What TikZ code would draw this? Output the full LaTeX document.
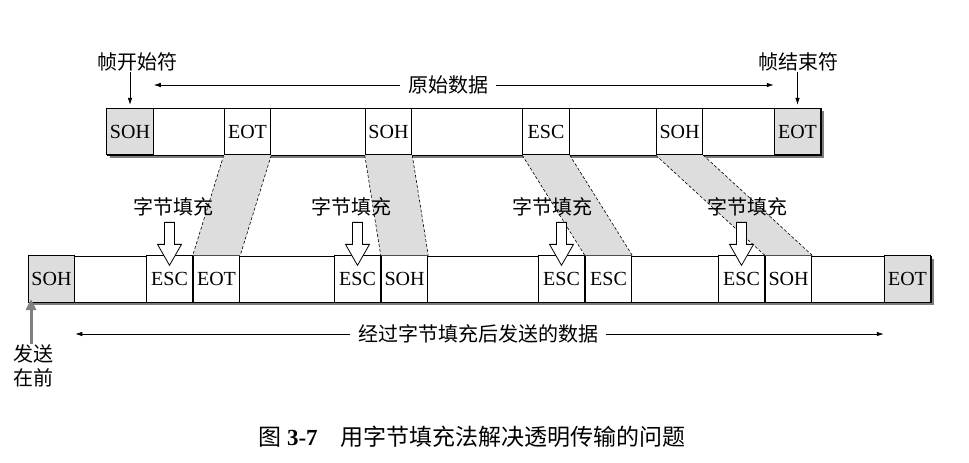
\documentclass[tikz,border=0pt]{standalone}
\usepackage{fontspec}
\setmainfont{Liberation Serif}
\newfontfamily\cjk{Noto Sans CJK SC}
\usetikzlibrary{arrows.meta,calc}
\definecolor{cellgray}{RGB}{221,221,221}
\definecolor{shadowgray}{RGB}{125,125,125}
\definecolor{sendgray}{RGB}{128,128,128}

% hollow block arrow standing on top of a cell
\newcommand\stuffarrow[1]{%
  \begin{scope}[shift={(#1.north)}]
    \draw[line width=0.8pt, fill=white, line join=miter]
      (-5,-33) -- (5,-33) -- (5,-11) -- (12,-11) -- (0,10)
      -- (-12,-11) -- (-5,-11) -- cycle;
  \end{scope}}

% shaded band linking a cell of the original frame to its stuffed copy
\newcommand\band[2]{%
  \fill[cellgray] (#1.south west) -- (#1.south east) -- (#2.north east) -- (#2.north west) -- cycle;
  \draw[dashline] (#1.south west) -- (#2.north west);
  \draw[dashline] (#1.south east) -- (#2.north east);}

\begin{document}
\begin{tikzpicture}[x=1pt,y=-1pt,
  cell/.style={draw, line width=0.8pt, fill=white, minimum width=46.7pt,
    minimum height=46.5pt, inner sep=0pt, font=\fontsize{20}{20}\selectfont},
  endcell/.style={cell, fill=cellgray},
  framebox/.style={draw, line width=0.8pt, fill=white},
  shade/.style={fill=shadowgray},
  dashline/.style={line width=0.6pt, dash pattern=on 3pt off 2pt},
  lbl/.style={inner sep=1pt, font=\cjk\fontsize{20}{24}\selectfont},
  arr/.style={line width=0.7pt, -{Latex[length=7pt,width=4.5pt]}},
  sendarr/.style={line width=3pt, draw=sendgray, -{Triangle[length=11pt,width=10pt]}}]

\useasboundingbox (0,0) rectangle (969,463);

% original frame: outline and shadow
\fill[shade] (109.5,110.5) rectangle (823.5,157.5);
\draw[framebox] (107,108) rectangle (821,155);
% stuffed frame: outline and shadow
\fill[shade] (30.5,258.5) rectangle (933.5,304.5);
\draw[framebox] (28,256) rectangle (931,302);

% cells of the original frame
\node[endcell] (t1) at (130,131.5) {SOH};
\node[cell]    (t2) at (247.5,131.5) {EOT};
\node[cell]    (t3) at (388.5,131.5) {SOH};
\node[cell]    (t4) at (546,131.5) {ESC};
\node[cell]    (t5) at (679.5,131.5) {SOH};
\node[endcell] (t6) at (797.5,131.5) {EOT};

% cells of the stuffed frame
\node[endcell] (b1)  at (51.5,279) {SOH};
\node[cell]    (b2)  at (169.5,279) {ESC};
\node[cell]    (b3)  at (216.5,279) {EOT};
\node[cell]    (b4)  at (357.5,279) {ESC};
\node[cell]    (b5)  at (404.5,279) {SOH};
\node[cell]    (b6)  at (561.5,279) {ESC};
\node[cell]    (b7)  at (608.5,279) {ESC};
\node[cell]    (b8)  at (741.5,279) {ESC};
\node[cell]    (b9)  at (788.5,279) {SOH};
\node[endcell] (b10) at (907.5,279) {EOT};

% bands from original bytes to their positions after stuffing
\band{t2}{b3}
\band{t3}{b5}
\band{t4}{b7}
\band{t5}{b9}

% stuffing labels and arrows
\node[lbl] (s1) at (173,207) {字节填充};
\node[lbl] (s2) at (351,207) {字节填充};
\node[lbl] (s3) at (552,207) {字节填充};
\node[lbl] (s4) at (747,207) {字节填充};
\stuffarrow{b2}
\stuffarrow{b4}
\stuffarrow{b6}
\stuffarrow{b8}

% frame delimiters
\node[lbl] (start) at (137,62) {帧开始符};
\node[lbl] (stop)  at (798,62) {帧结束符};
\draw[arr, shorten >=3pt] (t1.north |- start.south) -- (t1.north);
\draw[arr, shorten >=3pt] (t6.north |- stop.south) -- (t6.north);

% extent of the original data
\node[lbl, inner sep=8pt] (orig) at (448,85) {原始数据};
\draw[arr] (orig.west) -- (orig.west -| t1.east);
\draw[arr] (orig.east) -- (orig.east -| t6.west);

% extent of the transmitted data
\node[lbl, inner sep=8pt] (sent) at (478,334) {经过字节填充后发送的数据};
\draw[arr] (sent.west) -- (sent.west -| b1.east);
\draw[arr] (sent.east) -- (sent.east -| b10.west);

% transmission order
\node[lbl, align=center] (first) at (33,366) {发送\\在前};
\coordinate (firsttip) at (31,299);
\draw[sendarr] (firsttip |- first.north) -- (firsttip);

% caption
\node[font=\fontsize{23}{26}\selectfont] (cap) at (472,437)
  {{\cjk 图} \textbf{3-7}\hspace{1em}{\cjk 用字节填充法解决透明传输的问题}};
\end{tikzpicture}
\end{document}
